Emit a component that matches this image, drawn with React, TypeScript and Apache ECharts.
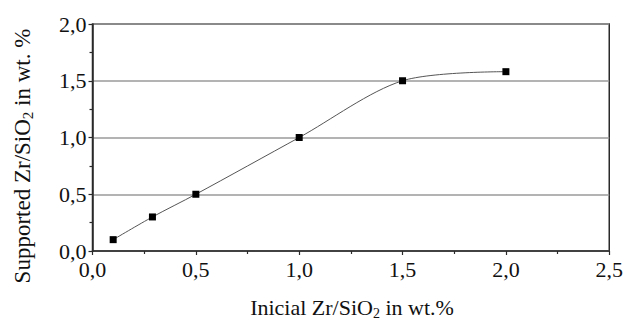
import React, { useEffect, useRef } from "react";
import * as echarts from "echarts";

const initialZr = [0.1, 0.29, 0.5, 1.0, 1.5, 2.0];
const supportedZr = [0.1, 0.3, 0.5, 1.0, 1.5, 1.58];
const xTicks = ["0,0", "0,5", "1,0", "1,5", "2,0", "2,5"];
const yTicks = ["0,0", "0,5", "1,0", "1,5", "2,0"];

const FONT = "Liberation Serif";

export default function App() {
  const ref = useRef<HTMLDivElement>(null);
  useEffect(() => {
    if (!ref.current) return;
    const chart = echarts.init(ref.current, undefined, { renderer: "svg" });
    const fmt = (v: number) => v.toFixed(1).replace(".", ",");
    chart.setOption({
      animation: false,
      backgroundColor: "#ffffff",
      textStyle: { fontFamily: FONT },
      grid: {
        left: 92.5,
        right: 16,
        top: 24,
        bottom: 72,
        show: true,
        borderColor: "#2a2a2a",
        borderWidth: 1.5,
        backgroundColor: "transparent",
      },
      xAxis: {
        type: "value",
        min: 0,
        max: 2.5,
        interval: 0.5,
        axisLine: { show: true, lineStyle: { color: "#2a2a2a", width: 1.5 } },
        axisTick: { show: true, length: 4, lineStyle: { color: "#2a2a2a", width: 1.2 } },
        minorTick: { show: true, splitNumber: 2, length: 3, lineStyle: { color: "#2a2a2a", width: 1.2 } },
        splitLine: { show: false },
        axisLabel: {
          fontFamily: FONT,
          fontSize: 22,
          color: "#111",
          margin: 7,
          formatter: (v: number) => {
            const s = fmt(v);
            return xTicks.includes(s) ? s : "";
          },
        },
      },
      yAxis: {
        type: "value",
        min: 0,
        max: 2.0,
        interval: 0.5,
        axisLine: { show: true, lineStyle: { color: "#2a2a2a", width: 1.5 } },
        axisTick: { show: true, length: 4, lineStyle: { color: "#2a2a2a", width: 1.2 } },
        minorTick: { show: true, splitNumber: 2, length: 3, lineStyle: { color: "#2a2a2a", width: 1.2 } },
        splitLine: { show: true, lineStyle: { color: "#9a9a9a", width: 1.5 } },
        axisLabel: {
          fontFamily: FONT,
          fontSize: 22,
          color: "#111",
          margin: 6,
          formatter: (v: number) => {
            const s = fmt(v);
            return yTicks.includes(s) ? s : "";
          },
        },
      },
      graphic: [
        {
          type: "text",
          x: 352,
          y: 307,
          style: {
            text: "{a|Inicial Zr/SiO}{s|2}{a| in wt.%}",
            align: "center",
            verticalAlign: "middle",
            rich: {
              a: { fontFamily: FONT, fontSize: 22, fill: "#111" },
              s: { fontFamily: FONT, fontSize: 14, fill: "#111", padding: [12, 0, 0, 0] },
            },
          },
        },
        {
          type: "text",
          x: 22,
          y: 156,
          rotation: Math.PI / 2,
          style: {
            text: "{a|Supported Zr/SiO}{s|2}{a| in wt. %}",
            align: "center",
            verticalAlign: "middle",
            rich: {
              a: { fontFamily: FONT, fontSize: 23, fill: "#111" },
              s: { fontFamily: FONT, fontSize: 15, fill: "#111", padding: [12, 0, 0, 0] },
            },
          },
        },
      ],
      series: [
        {
          type: "line",
          data: initialZr.map((x, i) => [x, supportedZr[i]]),
          smooth: 0.3,
          symbol: "rect",
          symbolSize: 7,
          itemStyle: { color: "#000" },
          lineStyle: { color: "#555", width: 1 },
        },
      ],
    });
    return () => chart.dispose();
  }, []);
  return (
    <div
      ref={ref}
      style={{ position: "absolute", left: 0, top: 0, width: 626, height: 323 }}
    />
  );
}
